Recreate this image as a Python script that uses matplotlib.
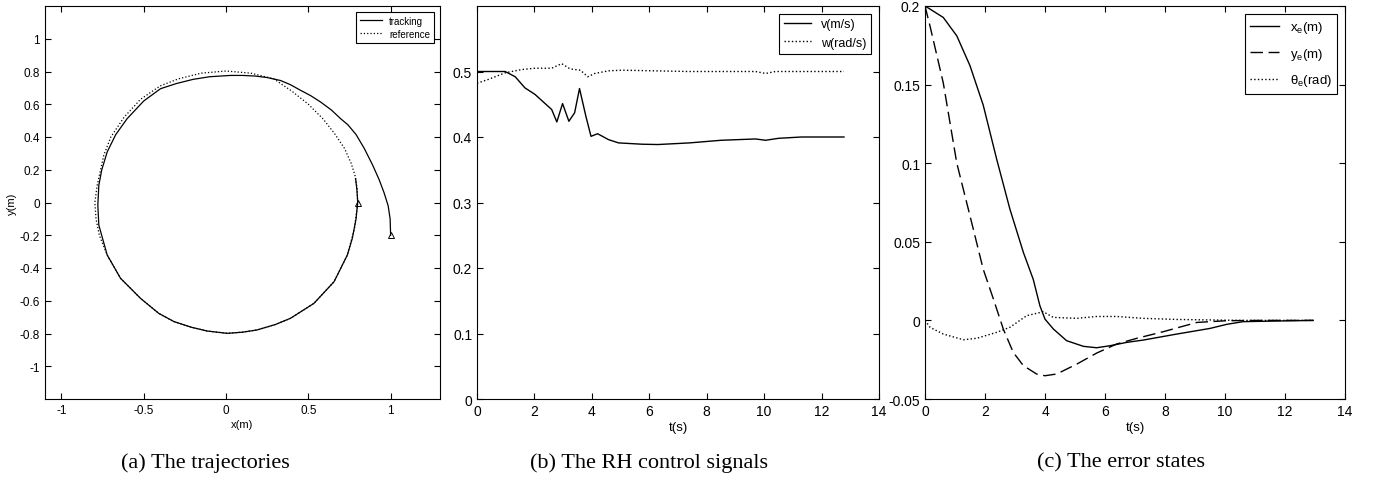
import matplotlib.pyplot as plt
from matplotlib.ticker import FormatStrFormatter

# (a) trajectories
ref_x = [0.8, 0.797, 0.785, 0.76, 0.72, 0.66, 0.59, 0.5, 0.4, 0.29, 0.15, 0.0, -0.15,
         -0.29, -0.4, -0.52, -0.62, -0.7, -0.743, -0.783, -0.797, -0.79, -0.77, -0.722,
         -0.641, -0.52, -0.409, -0.317, -0.21, -0.114, 0.007, 0.1, 0.19, 0.3, 0.392, 0.534,
         0.656, 0.737, 0.78, 0.8]
ref_y = [0.0, 0.08, 0.16, 0.24, 0.33, 0.42, 0.51, 0.6, 0.68, 0.755, 0.79, 0.803, 0.79,
         0.755, 0.712, 0.63, 0.52, 0.4, 0.288, 0.105, 0.0, -0.1, -0.2, -0.321, -0.463,
         -0.585, -0.677, -0.727, -0.762, -0.785, -0.799, -0.792, -0.778, -0.745, -0.707,
         -0.616, -0.484, -0.321, -0.16, 0.0]
trk_x = [1.0, 0.997, 0.985, 0.96, 0.93, 0.89, 0.84, 0.79, 0.74, 0.696, 0.64, 0.574, 0.515,
         0.453, 0.39, 0.331, 0.25, 0.18, 0.1, 0.027, -0.1, -0.2, -0.3, -0.398, -0.5, -0.601,
         -0.67, -0.722, -0.755, -0.773, -0.779, -0.773, -0.722, -0.641, -0.52, -0.409,
         -0.317, -0.21, -0.114, 0.007, 0.1, 0.19, 0.3, 0.392, 0.534, 0.656, 0.737, 0.767,
         0.79, 0.8, 0.795, 0.787]
trk_y = [-0.2, -0.1, -0.02, 0.06, 0.14, 0.23, 0.33, 0.415, 0.475, 0.512, 0.565, 0.614,
         0.652, 0.685, 0.72, 0.745, 0.763, 0.772, 0.776, 0.776, 0.768, 0.752, 0.727, 0.695,
         0.62, 0.512, 0.415, 0.309, 0.2, 0.105, -0.016, -0.138, -0.321, -0.463, -0.585,
         -0.677, -0.727, -0.762, -0.785, -0.799, -0.792, -0.778, -0.745, -0.707, -0.616,
         -0.484, -0.321, -0.22, -0.1, 0.0, 0.08, 0.146]
start_x = [0.8, 1.0]
start_y = [0.0, -0.2]

# (b) control signals
t_v = [0.0, 0.98, 1.33, 1.67, 2.02, 2.6, 2.78, 2.98, 3.2, 3.4, 3.57, 3.79, 3.97, 4.2,
       4.58, 4.93, 5.74, 6.3, 7.4, 8.5, 9.7, 10.05, 10.5, 11.3, 12.78]
v = [0.5, 0.5, 0.492, 0.475, 0.465, 0.442, 0.423, 0.451, 0.424, 0.437, 0.474, 0.432,
     0.401, 0.405, 0.396, 0.391, 0.389, 0.3885, 0.391, 0.395, 0.397, 0.395, 0.398, 0.4, 0.4]
t_w = [0.0, 0.4, 0.98, 1.56, 2.02, 2.6, 2.95, 3.24, 3.6, 3.86, 4.1, 4.58, 5.05, 6.2,
       7.37, 9.7, 10.05, 10.4, 12.78]
w = [0.482, 0.488, 0.498, 0.503, 0.505, 0.505, 0.512, 0.504, 0.502, 0.492, 0.497, 0.501,
     0.502, 0.501, 0.5, 0.5, 0.497, 0.5, 0.5]

# (c) error states
t_xe = [0.0, 0.17, 0.61, 1.06, 1.5, 1.94, 2.39, 2.83, 3.28, 3.61, 3.83, 4.0, 4.28, 4.72,
        5.28, 5.72, 6.17, 6.72, 7.28, 8.39, 9.5, 10.06, 10.6, 11.7, 12.94]
xe = [0.2, 0.198, 0.1927, 0.181, 0.162, 0.137, 0.1025, 0.0708, 0.0432, 0.026, 0.0093,
      0.0008, -0.0055, -0.0129, -0.0165, -0.0174, -0.0161, -0.014, -0.0125, -0.0087,
      -0.0051, -0.0025, -0.0008, -0.0004, 0.0]
t_ye = [0.0, 0.17, 0.61, 1.06, 1.5, 1.94, 2.28, 2.61, 2.94, 3.28, 3.72, 4.0, 4.39, 5.06,
        5.72, 6.39, 7.06, 7.94, 9.06, 10.06, 11.2, 12.94]
ye = [0.2, 0.187, 0.151, 0.1, 0.0665, 0.0326, 0.0136, -0.0055, -0.0203, -0.0288, -0.0341,
      -0.0352, -0.0341, -0.0278, -0.0208, -0.015, -0.0114, -0.0072, -0.0013, -0.0002, 0.0, 0.0]
t_th = [0.0, 0.17, 0.61, 1.28, 1.72, 2.39, 2.83, 3.39, 3.94, 4.28, 5.06, 5.72, 6.39, 7.28,
        8.39, 10.6, 12.94]
th = [0.0, -0.0044, -0.0087, -0.0123, -0.0114, -0.0076, -0.0044, 0.003, 0.0055, 0.0019,
      0.0013, 0.0025, 0.0025, 0.0013, 0.0006, 0.0, 0.0]

plt.rcParams['font.family'] = ['Liberation Sans', 'DejaVu Sans']
plt.rcParams['font.size'] = 8
plt.rcParams['mathtext.fontset'] = 'custom'
plt.rcParams['mathtext.rm'] = 'Liberation Sans'
plt.rcParams['mathtext.it'] = 'Liberation Sans'

fig = plt.figure(figsize=(13.75, 4.81), dpi=100)
W, H = 1375, 481


def make_axes(l, r, fs, t=7, b=400):
    ax = fig.add_axes([l / W, 1 - b / H, (r - l) / W, (b - t) / H])
    ax.tick_params(direction='in', top=True, right=True, length=4, width=0.8, labelsize=fs)
    for s in ax.spines.values():
        s.set_linewidth(0.8)
    return ax


def legend(ax, fs, sp=0.5):
    lg = ax.legend(loc='upper right', fontsize=fs, fancybox=False, edgecolor='black',
                   framealpha=1, borderaxespad=0.6, handlelength=2.2, labelspacing=sp)
    lg.get_frame().set_linewidth(0.8)


ax1 = make_axes(45, 440, 8.5)
ax1.plot(trk_x, trk_y, 'k-', lw=0.9, label='tracking')
ax1.plot(ref_x, ref_y, 'k:', lw=0.9, label='reference')
ax1.plot(start_x, start_y, 'k^', mfc='none', ms=5, mew=0.7)
ax1.set_xlim(-1.1, 1.3)
ax1.set_ylim(-1.2, 1.2)
ax1.set_xticks([-1, -0.5, 0, 0.5, 1])
ax1.set_yticks([-1, -0.8, -0.6, -0.4, -0.2, 0, 0.2, 0.4, 0.6, 0.8, 1])
ax1.xaxis.set_major_formatter(FormatStrFormatter('%g'))
ax1.yaxis.set_major_formatter(FormatStrFormatter('%g'))
ax1.set_xlabel('x(m)', fontsize=8, labelpad=2)
ax1.set_ylabel('y(m)', fontsize=8, labelpad=2)
legend(ax1, 7, 0.3)

ax2 = make_axes(477, 879, 10)
ax2.plot(t_v, v, 'k-', lw=1.0, label='v(m/s)')
ax2.plot(t_w, w, 'k:', lw=1.0, label='w(rad/s)')
ax2.set_xlim(0, 14)
ax2.set_ylim(0, 0.6)
ax2.set_xticks(range(0, 15, 2))
ax2.set_yticks([0, 0.1, 0.2, 0.3, 0.4, 0.5])
ax2.yaxis.set_major_formatter(FormatStrFormatter('%g'))
ax2.set_xlabel('t(s)', fontsize=9.5, labelpad=2)
legend(ax2, 9)

ax3 = make_axes(925, 1345, 10)
ax3.plot(t_xe, xe, 'k-', lw=1.0, label='x$_e$(m)')
ax3.plot(t_ye, ye, 'k', ls=(0, (9, 4)), lw=1.0, label='y$_e$(m)')
ax3.plot(t_th, th, 'k:', lw=1.0, label=r'$\theta_e$(rad)')
ax3.set_xlim(0, 14)
ax3.set_ylim(-0.05, 0.2)
ax3.set_xticks(range(0, 15, 2))
ax3.set_yticks([-0.05, 0, 0.05, 0.1, 0.15, 0.2])
ax3.yaxis.set_major_formatter(FormatStrFormatter('%g'))
ax3.set_xlabel('t(s)', fontsize=9.5, labelpad=2)
legend(ax3, 9.5, 0.8)

cap = dict(ha='center', va='center', fontsize=16, family='Liberation Serif')
fig.text(205 / W, 1 - 463 / H, '(a) The trajectories', **cap)
fig.text(649 / W, 1 - 463 / H, '(b) The RH control signals', **cap)
fig.text(1121 / W, 1 - 463 / H, '(c) The error states', **cap)

fig.savefig('out.png', dpi=100)
